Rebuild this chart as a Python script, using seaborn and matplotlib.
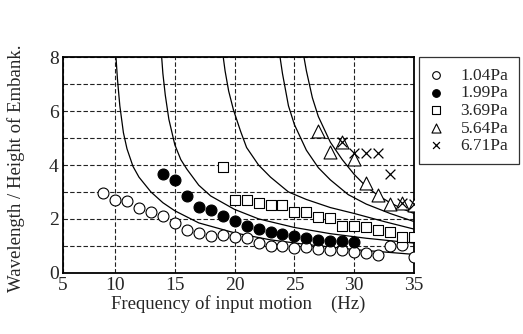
import matplotlib
matplotlib.use('Agg')

import seaborn as sns
from matplotlib import pyplot as plt

sns.set_style('white')
plt.rcParams['font.family'] = ['Liberation Serif', 'DejaVu Serif']

# measured points (frequency in Hz, wavelength / embankment height)
freq_104 = [9, 10, 11, 12, 13, 14, 15, 16, 17, 18, 19, 20, 21, 22, 23, 24, 25, 26, 27, 28, 29, 30, 31, 32, 33, 34, 35]
ratio_104 = [2.97, 2.70, 2.66, 2.41, 2.25, 2.10, 1.83, 1.57, 1.46, 1.36, 1.39, 1.31, 1.28, 1.09, 1.00, 0.99, 0.93,
             0.97, 0.87, 0.84, 0.84, 0.77, 0.74, 0.65, 0.99, 1.04, 0.59]

freq_199 = [14, 15, 16, 17, 18, 19, 20, 21, 22, 23, 24, 25, 26, 27, 28, 29, 30]
ratio_199 = [3.67, 3.45, 2.85, 2.45, 2.33, 2.11, 1.92, 1.73, 1.61, 1.51, 1.44, 1.37, 1.30, 1.21, 1.19, 1.17, 1.15]

freq_369 = [19, 20, 21, 22, 23, 24, 25, 26, 27, 28, 29, 30, 31, 32, 33, 34, 35]
ratio_369 = [3.91, 2.70, 2.70, 2.60, 2.50, 2.50, 2.24, 2.24, 2.08, 2.02, 1.74, 1.73, 1.68, 1.60, 1.50, 1.34, 1.32]

freq_564 = [27, 28, 29, 30, 31, 32, 33, 34, 35]
ratio_564 = [5.26, 4.49, 4.87, 4.23, 3.32, 2.89, 2.54, 2.58, 2.51]

freq_671 = [29, 30, 31, 32, 33, 34, 35]
ratio_671 = [4.87, 4.43, 4.43, 4.43, 3.66, 2.58, 2.55]

# theoretical curves
curve_a_x = [10.08, 10.2, 10.4, 10.7, 11.0, 11.5, 12.0, 13.0, 14.0, 15.0, 17.0, 20.0, 23.0, 26.0, 30.0, 35.0]
curve_a_y = [8.0, 7.2, 6.2, 5.2, 4.6, 3.95, 3.55, 3.0, 2.6, 2.3, 1.85, 1.48, 1.22, 1.05, 0.86, 0.68]
curve_b_x = [13.9, 14.0, 14.2, 14.5, 15.0, 15.5, 16.0, 17.0, 18.0, 20.0, 22.0, 25.0, 28.0, 31.0, 35.0]
curve_b_y = [8.0, 7.4, 6.6, 5.7, 4.75, 4.2, 3.85, 3.25, 2.85, 2.35, 2.0, 1.68, 1.45, 1.28, 1.1]
curve_c_x = [19.05, 19.2, 19.5, 19.9, 20.5, 21.0, 22.0, 23.0, 24.5, 26.0, 28.0, 30.0, 32.5, 35.0]
curve_c_y = [8.0, 7.5, 6.75, 6.05, 5.25, 4.65, 4.0, 3.55, 3.0, 2.72, 2.42, 2.2, 1.9, 1.62]
curve_d_x = [23.8, 24.0, 24.5, 25.0, 26.0, 27.0, 28.0, 29.5, 31.0, 33.0, 35.0]
curve_d_y = [8.0, 7.4, 6.2, 5.5, 4.55, 3.9, 3.45, 2.9, 2.55, 2.2, 1.9]
curve_e_x = [25.8, 26.0, 26.5, 27.0, 28.0, 29.0, 30.0, 31.0, 32.0, 33.0, 34.0, 35.0]
curve_e_y = [8.0, 7.5, 6.5, 5.8, 4.85, 4.2, 3.65, 3.2, 2.87, 2.6, 2.38, 2.2]

x_ticks = [5.65, 10, 15, 20, 25, 30, 35]
x_tick_labels = ['5', '10', '15', '20', '25', '30', '35']
y_ticks = [0, 2, 4, 6, 8]


def main():
    fig = plt.figure(figsize=(5.23, 3.34), dpi=100)
    ax = fig.add_axes([0.1205, 0.1835, 0.6711, 0.6449])

    for cx, cy in [(curve_a_x, curve_a_y), (curve_b_x, curve_b_y), (curve_c_x, curve_c_y),
                   (curve_d_x, curve_d_y), (curve_e_x, curve_e_y)]:
        sns.lineplot(x=cx, y=cy, sort=False, estimator=None, color='black', linewidth=0.9, ax=ax, zorder=2)

    size = 62
    sns.scatterplot(x=freq_104, y=ratio_104, marker='o', s=size, facecolor='white', edgecolor='black',
                    linewidth=0.8, label='1.04Pa', ax=ax, zorder=3)
    sns.scatterplot(x=freq_199, y=ratio_199, marker='o', s=size, facecolor='black', edgecolor='black',
                    linewidth=0.8, label='1.99Pa', ax=ax, zorder=3)
    sns.scatterplot(x=freq_369, y=ratio_369, marker='s', s=size * 0.9, facecolor='white', edgecolor='black',
                    linewidth=0.8, label='3.69Pa', ax=ax, zorder=3)
    sns.scatterplot(x=freq_564, y=ratio_564, marker='^', s=size * 1.4, facecolor='white', edgecolor='black',
                    linewidth=0.8, label='5.64Pa', ax=ax, zorder=3)
    sns.scatterplot(x=freq_671, y=ratio_671, marker='x', s=size * 0.8, color='black',
                    linewidth=0.9, label='6.71Pa', ax=ax, zorder=4)

    ax.set_xlim(x_ticks[0], 35)
    ax.set_ylim(0, 8)
    ax.set_xticks(x_ticks)
    ax.set_xticklabels(x_tick_labels)
    ax.set_yticks(y_ticks)
    ax.set_yticks([1, 3, 5, 7], minor=True)
    ax.tick_params(which='both', length=0, labelsize=14, pad=3)
    ax.grid(True, which='both', axis='y', color='#222222', linestyle=(0, (4, 2)), linewidth=0.8)
    ax.grid(True, which='major', axis='x', color='#222222', linestyle=(0, (4, 2)), linewidth=0.8)
    for side in ax.spines.values():
        side.set_color('black')
        side.set_linewidth(1.3)

    ax.set_xlabel('Frequency of input motion    (Hz)', fontsize=13.5, labelpad=1)
    ax.set_ylabel('Wavelength / Height of Embank.', fontsize=13.5)
    ax.yaxis.set_label_coords(-0.108, 0.486)

    leg = ax.legend(loc='upper left', bbox_to_anchor=(1.014, 1.0), borderaxespad=0, fontsize=12.5,
                    frameon=True, fancybox=False, edgecolor='black', handletextpad=1.0,
                    handlelength=0.8, labelspacing=0.08, borderpad=0.6, markerscale=0.7)
    leg.get_frame().set_linewidth(0.9)

    fig.savefig('out.png', dpi=100)


if __name__ == '__main__':
    main()
